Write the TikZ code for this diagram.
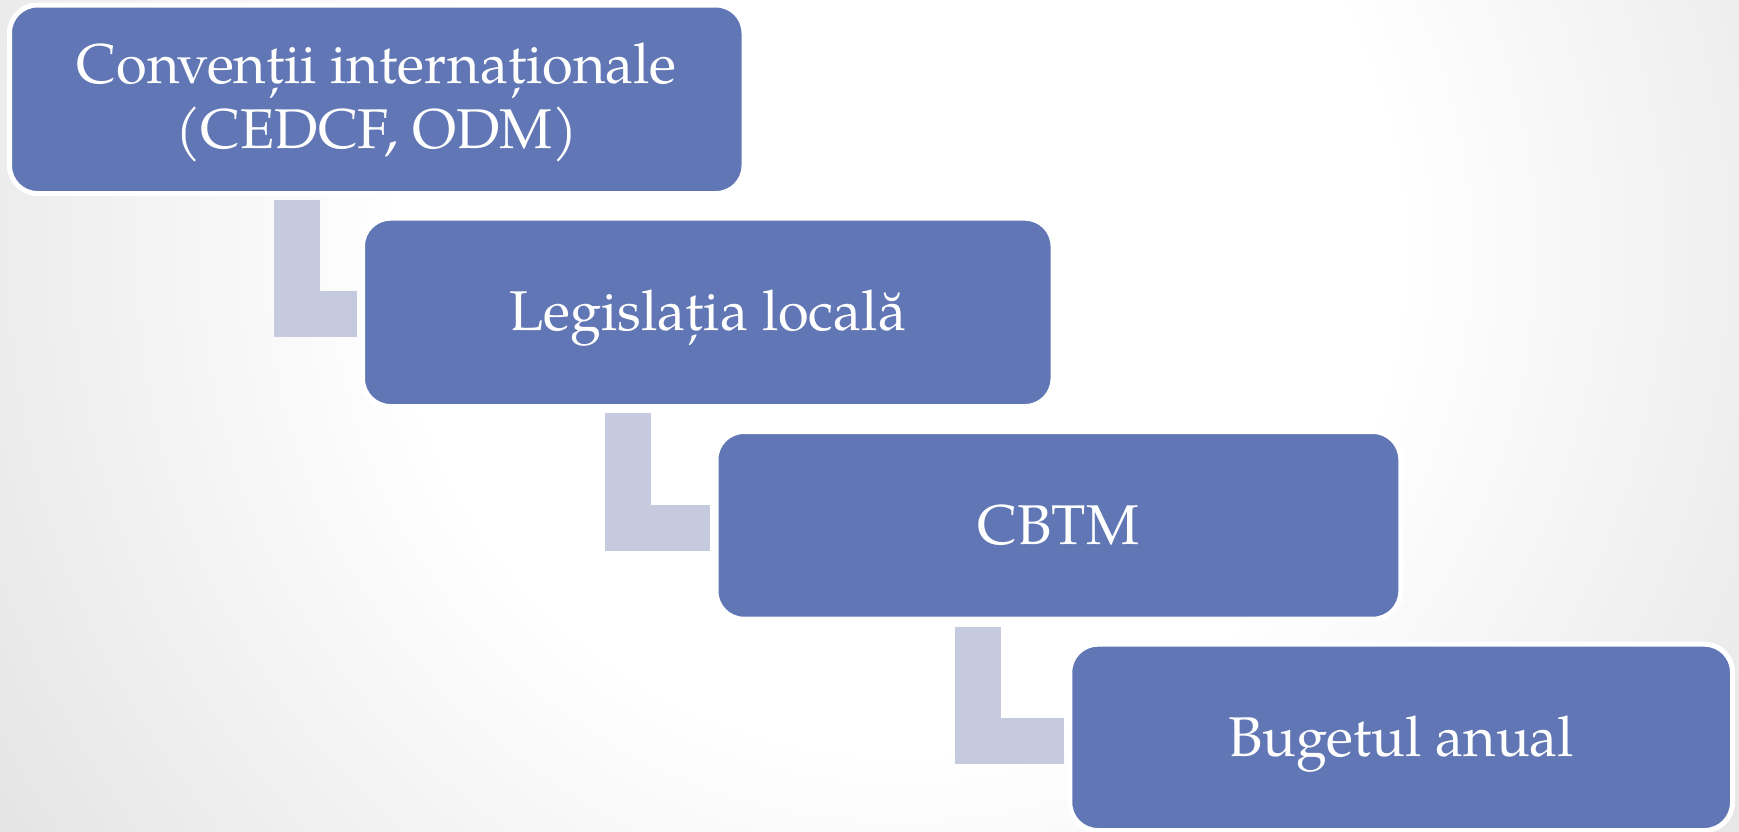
\documentclass[tikz,border=0pt]{standalone}
\usepackage{fontspec}
\setmainfont{TeX Gyre Pagella}
\usetikzlibrary{calc}
\definecolor{boxblue}{RGB}{97,118,180}
\definecolor{connblue}{RGB}{197,202,223}
\pgfdeclareradialshading{bgshade}{\pgfpoint{0bp}{0bp}}{color(0bp)=(white); color(10.4bp)=(white); color(22.9bp)=(black!11); color(25bp)=(black!12); color(50bp)=(black!15)}
\tikzset{
  stagebox/.style={draw=white, line width=5pt, fill=boxblue, rounded corners=28pt,
    inner sep=0pt, align=center, text=white, font=\fontsize{56}{65}\selectfont,
    text height=38pt, text depth=0pt},
  conn/.style={draw=connblue, line width=46pt, line cap=butt, line join=miter}
}
\begin{document}
\begin{tikzpicture}[x=1pt,y=-1pt]
\useasboundingbox (0,0) rectangle (1739,831);
\begin{scope}
\clip (0,0) rectangle (1739,831);
\shade[shading=bgshade] (900,250) circle (1200pt);
\end{scope}
\node[stagebox, minimum width=734.5pt, minimum height=188.5pt, text height=97.5pt] (b1) at (376.75,99.25) {Convenții internaționale\\(CEDCF, ODM)};
\node[stagebox, minimum width=690.5pt, minimum height=188.3pt, text height=37pt] (b2) at (707.75,312.35) {Legislația locală};
\node[stagebox, minimum width=684.8pt, minimum height=187.7pt] (b3) at (1058.4,525.35) {CBTM};
\node[stagebox, minimum width=662.7pt, minimum height=186.3pt] (b4) at (1401.15,737.35) {Bugetul anual};
\draw[conn] ([xshift=289.7pt,yshift=-4.2pt]b1.south west) |- ([xshift=-3.5pt,yshift=-2pt]b2.west);
\draw[conn] ([xshift=267.5pt,yshift=-4.2pt]b2.south west) |- ([xshift=-3.3pt,yshift=-2.65pt]b3.west);
\draw[conn] ([xshift=264.5pt,yshift=-4.8pt]b3.south west) |- ([xshift=-3.8pt,yshift=-3.65pt]b4.west);
\end{tikzpicture}
\end{document}
